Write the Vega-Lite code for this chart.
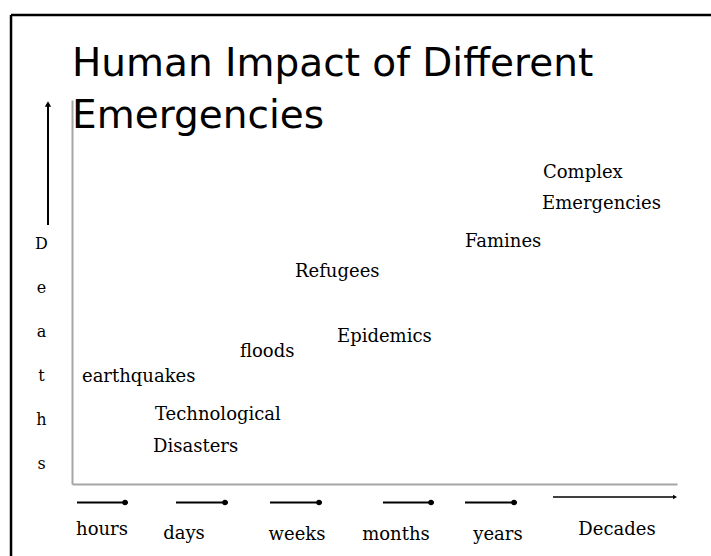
{
  "$schema": "https://vega.github.io/schema/vega-lite/v6.json",
  "width": 605,
  "height": 384,
  "autosize": "none",
  "padding": {"left": 72, "top": 100, "right": 34, "bottom": 72},
  "background": "white",
  "config": {"view": {"stroke": null}},
  "title": {
    "text": ["Human Impact of Different", "Emergencies"],
    "anchor": "start",
    "frame": "group",
    "baseline": "alphabetic",
    "offset": -153,
    "font": "DejaVu Sans",
    "fontSize": 39,
    "fontWeight": "normal",
    "color": "black",
    "lineHeight": 52
  },
  "datasets": {
    "events": [
      {"event": "earthquakes", "time": 0.165, "deaths": 2.656},
      {"event": "Technological", "time": 1.372, "deaths": 1.667},
      {"event": "Disasters", "time": 1.339, "deaths": 0.833},
      {"event": "floods", "time": 2.777, "deaths": 3.307},
      {"event": "Epidemics", "time": 4.38, "deaths": 3.698},
      {"event": "Refugees", "time": 3.686, "deaths": 5.391},
      {"event": "Famines", "time": 6.496, "deaths": 6.172},
      {"event": "Complex", "time": 7.785, "deaths": 7.969},
      {"event": "Emergencies", "time": 7.769, "deaths": 7.161}
    ],
    "periods": [
      {"period": "hours", "x": 0.496, "y": -1.328, "x1": 0.083, "x2": 0.926, "ay": -0.482, "head": 0.876},
      {"period": "days", "x": 1.851, "y": -1.432, "x1": 1.719, "x2": 2.579, "ay": -0.482, "head": 2.529},
      {"period": "weeks", "x": 3.719, "y": -1.458, "x1": 3.273, "x2": 4.132, "ay": -0.482, "head": 4.083},
      {"period": "months", "x": 5.355, "y": -1.458, "x1": 5.14, "x2": 5.983, "ay": -0.482, "head": 5.934},
      {"period": "years", "x": 7.041, "y": -1.458, "x1": 6.496, "x2": 7.355, "ay": -0.482, "head": 7.306}
    ],
    "decades": [
      {"period": "Decades", "x": 9.008, "y": -1.328, "x1": 7.95, "x2": 9.95, "ay": -0.339, "head": 9.967}
    ],
    "deathsArrow": [
      {"x": -0.397, "y1": 6.745, "y2": 9.87, "head": 9.896}
    ],
    "frame": [
      {"x1": -1.008, "x2": 11, "y1": 12.214, "y2": 12.214},
      {"x1": -1.008, "x2": -1.008, "y1": 12.214, "y2": -2}
    ]
  },
  "encoding": {
    "x": {"type": "quantitative", "scale": {"domain": [0, 10], "nice": false, "zero": false}},
    "y": {"type": "quantitative", "scale": {"domain": [0, 10], "nice": false, "zero": false}}
  },
  "layer": [
    {
      "data": {"name": "events"},
      "mark": {"type": "text", "align": "left", "baseline": "alphabetic", "font": "DejaVu Serif", "fontSize": 18, "color": "black"},
      "encoding": {
        "x": {"field": "time", "type": "quantitative",
          "axis": {"orient": "bottom", "title": null, "labels": false, "ticks": false, "grid": false, "domain": true, "domainColor": "#a6a6a6", "domainWidth": 2}},
        "y": {"field": "deaths", "type": "quantitative",
          "axis": {"orient": "left", "title": ["D", "e", "a", "t", "h", "s"], "titleAngle": 0, "titleX": -31, "titleY": 148, "titleAlign": "center", "titleBaseline": "alphabetic", "titleLineHeight": 44, "titleFont": "DejaVu Serif", "titleFontSize": 16, "titleFontWeight": "normal", "titleColor": "black", "labels": false, "ticks": false, "grid": false, "domain": true, "domainColor": "#a6a6a6", "domainWidth": 2}},
        "text": {"field": "event"}
      }
    },
    {
      "data": {"name": "periods"},
      "mark": {"type": "text", "align": "center", "baseline": "alphabetic", "font": "DejaVu Serif", "fontSize": 18, "color": "black"},
      "encoding": {
        "x": {"field": "x", "type": "quantitative"},
        "y": {"field": "y", "type": "quantitative"},
        "text": {"field": "period"}
      }
    },
    {
      "data": {"name": "periods"},
      "mark": {"type": "rule", "color": "black", "strokeWidth": 2},
      "encoding": {
        "x": {"field": "x1", "type": "quantitative"},
        "x2": {"field": "x2"},
        "y": {"field": "ay", "type": "quantitative"}
      }
    },
    {
      "data": {"name": "periods"},
      "mark": {"type": "point", "shape": "circle", "filled": true, "color": "black", "size": 30, "opacity": 1},
      "encoding": {
        "x": {"field": "head", "type": "quantitative"},
        "y": {"field": "ay", "type": "quantitative"}
      }
    },
    {
      "data": {"name": "decades"},
      "mark": {"type": "text", "align": "center", "baseline": "alphabetic", "font": "DejaVu Serif", "fontSize": 18, "color": "black"},
      "encoding": {
        "x": {"field": "x", "type": "quantitative"},
        "y": {"field": "y", "type": "quantitative"},
        "text": {"field": "period"}
      }
    },
    {
      "data": {"name": "decades"},
      "mark": {"type": "rule", "color": "black", "strokeWidth": 1.5},
      "encoding": {
        "x": {"field": "x1", "type": "quantitative"},
        "x2": {"field": "x2"},
        "y": {"field": "ay", "type": "quantitative"}
      }
    },
    {
      "data": {"name": "decades"},
      "mark": {"type": "point", "shape": "triangle-right", "filled": true, "color": "black", "size": 22, "opacity": 1},
      "encoding": {
        "x": {"field": "head", "type": "quantitative"},
        "y": {"field": "ay", "type": "quantitative"}
      }
    },
    {
      "data": {"name": "deathsArrow"},
      "mark": {"type": "rule", "color": "black", "strokeWidth": 2},
      "encoding": {
        "x": {"field": "x", "type": "quantitative"},
        "y": {"field": "y1", "type": "quantitative"},
        "y2": {"field": "y2"}
      }
    },
    {
      "data": {"name": "deathsArrow"},
      "mark": {"type": "point", "shape": "triangle-up", "filled": true, "color": "black", "size": 40, "opacity": 1},
      "encoding": {
        "x": {"field": "x", "type": "quantitative"},
        "y": {"field": "head", "type": "quantitative"}
      }
    },
    {
      "data": {"name": "frame"},
      "mark": {"type": "rule", "color": "black", "strokeWidth": 2.5},
      "encoding": {
        "x": {"field": "x1", "type": "quantitative"},
        "x2": {"field": "x2"},
        "y": {"field": "y1", "type": "quantitative"},
        "y2": {"field": "y2"}
      }
    }
  ]
}
